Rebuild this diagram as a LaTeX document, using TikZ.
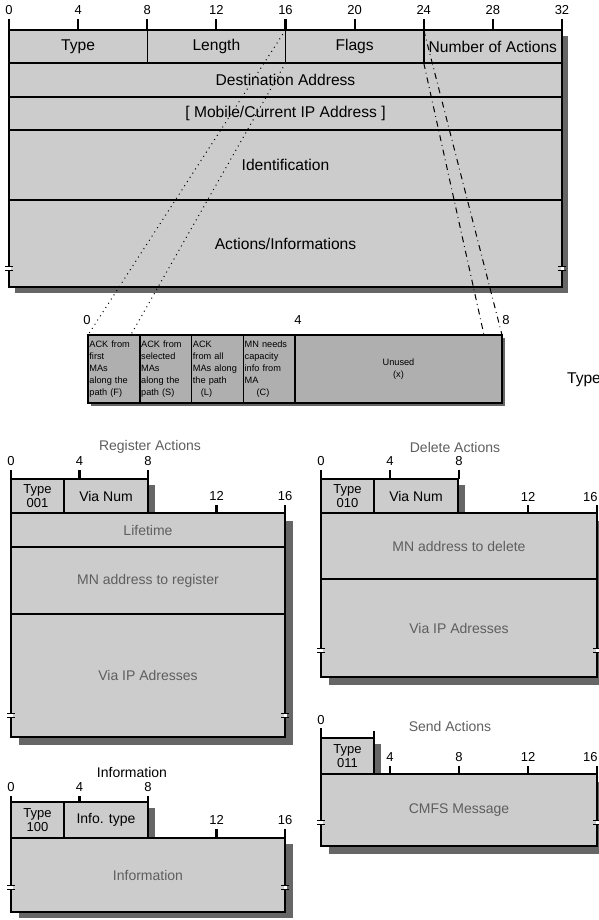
\documentclass[tikz,border=0pt]{standalone}
\usepackage{fontspec}
\setmainfont{Liberation Sans}
\usepackage{tikz}
\usetikzlibrary{positioning,backgrounds}
\definecolor{pktgray}{HTML}{CCCCCC}
\definecolor{flaggray}{HTML}{AFAFAF}
\definecolor{pktshadow}{HTML}{666666}
\definecolor{pkttext}{HTML}{5E5E5E}
\tikzset{
  pktfield/.style={
    draw=black, fill=pktgray, line width=0.75pt,
    inner sep=0pt, outer sep=0pt, align=center,
    font=\fontsize{7.8}{9}\selectfont
  },
  topfield/.style={pktfield, minimum width=69.125pt, minimum height=16.5pt},
  toprow/.style={pktfield, minimum width=276.5pt, minimum height=#1},
  flagcell/.style={
    draw=black, fill=flaggray, line width=0.75pt,
    outer sep=0pt, inner xsep=0.7pt, inner ysep=0pt,
    text width=24.475pt, minimum height=34pt, align=left,
    font=\fontsize{4.6}{6}\selectfont
  },
  subrow/.style={pktfield, text=pkttext, font=\fontsize{7}{8}\selectfont,
    minimum width=#1},
  subrow/.default=137pt,
  typecell/.style={pktfield, minimum width=26.5pt, minimum height=#1,
    font=\fontsize{6.5}{7}\selectfont},
  numcell/.style={pktfield, minimum width=42pt, minimum height=#1,
    font=\fontsize{7}{8}\selectfont},
  subtitle/.style={text=pkttext, font=\fontsize{7}{8}\selectfont},
  bitnum/.style={font=\fontsize{6.5}{7}\selectfont, inner sep=0pt},
  tick/.style={line width=1.1pt},
  flagmap/.style={dotted, line width=0.5pt},
  flagmapb/.style={dash dot, line width=0.5pt},
  brk/.pic={
    \fill[white] (-1.5,-2) rectangle (1.5,2);
    \draw[line width=0.4pt] (-4,-2) -- (4,-2) (-4,2) -- (4,2);
  }
}
\begin{document}
\begin{tikzpicture}[x=0.5pt, y=-0.5pt]
  \useasboundingbox (0,0) rectangle (599,920);

  %% ---- main packet ----
  \foreach \b in {0,4,...,32} {
    \draw[tick] ({9+\b*17.281},19) -- ++(0,11);
    \node[bitnum] (m\b) at ({9+\b*17.281},10) {\b};
  }
  \node[topfield, anchor=north west] (type) at (9,30) {Type};
  \node[topfield, right=0pt of type] (len) {Length};
  \node[topfield, right=0pt of len] (flags) {Flags};
  \node[topfield, right=0pt of flags] (nact) {Number of Actions};
  \node[toprow=17pt, anchor=north west] (dest) at (type.south west) {Destination Address};
  \node[toprow=16.5pt, below=0pt of dest] (mobile) {[ Mobile/Current IP Address ]};
  \node[toprow=35pt, below=0pt of mobile] (ident) {Identification};
  \node[toprow=43.5pt, below=0pt of ident] (acts) {Actions/Informations};
  \pic at ([yshift=9.5pt]acts.south west) {brk};
  \pic at ([yshift=9.5pt]acts.south east) {brk};

  %% ---- flags ----
  \node[bitnum] (f0) at (87,320) {0};
  \node[bitnum] (f4) at (298,320) {4};
  \node[bitnum] (f8) at (506,320) {8};
  \node[flagcell, anchor=north west] (flagF) at (88,335)
    {ACK from\\first\\MAs\\along the\\path (F)};
  \node[flagcell, right=0pt of flagF] (flagS)
    {ACK from\\selected\\MAs\\along the\\path (S)};
  \node[flagcell, right=0pt of flagS] (flagL)
    {ACK\\from all\\MAs along\\the path\\\hspace{4pt}(L)};
  \node[flagcell, right=0pt of flagL] (flagC)
    {MN needs\\capacity\\info from\\MA\\\hspace{6pt}(C)};
  \node[flagcell, right=0pt of flagC, text width=102.1pt, align=center] (flagU)
    {Unused\\(x)};
  \node[font=\fontsize{7.8}{9}\selectfont] (typelbl) at (584,380) {Type};

  \draw[flagmap] (flags.north west) -- (flagF.north west);
  \draw[flagmap] (flags.south west) -- ([xshift=-4.5pt]flagF.north east);
  \draw[flagmapb] (nact.north west) -- (flagU.north east);
  \draw[flagmapb] (nact.south west) -- ([xshift=-9pt]flagU.north east);

  %% ---- Register Actions ----
  \node[subtitle] (regt) at (150,447) {Register Actions};
  \foreach \b in {0,4,8} {
    \draw[tick] ({11+\b*17.125},470) -- ++(0,9);
    \node[bitnum] (r\b) at ({11+\b*17.125},461) {\b};
  }
  \foreach \b in {12,16} {
    \draw[tick] ({11+\b*17.125},505) -- ++(0,8);
    \node[bitnum] (r\b) at ({11+\b*17.125},496) {\b};
  }
  \node[typecell=17pt, anchor=north west] (regtype) at (11,479) {Type\\001};
  \node[numcell=17pt, right=0pt of regtype] (regvia) {Via Num};
  \node[subrow, minimum height=17pt, anchor=north west] (reglife) at (regtype.south west) {Lifetime};
  \node[subrow, minimum height=33.5pt, below=0pt of reglife] (regmn) {MN address to register};
  \node[subrow, minimum height=61.5pt, below=0pt of regmn] (regvip) {Via IP Adresses};
  \pic at ([yshift=11pt]regvip.south west) {brk};
  \pic at ([yshift=11pt]regvip.south east) {brk};

  %% ---- Delete Actions ----
  \node[subtitle] (delt) at (455,447) {Delete Actions};
  \foreach \b in {0,4,8} {
    \draw[tick] ({321+\b*17.25},470) -- ++(0,9);
    \node[bitnum] (d\b) at ({321+\b*17.25},461) {\b};
  }
  \foreach \b in {12,16} {
    \draw[tick] ({321+\b*17.25},505) -- ++(0,8);
  }
  \node[bitnum] (d12) at (528,497) {12};
  \node[bitnum, anchor=east] (d16) at (598,497) {16};
  \node[typecell=17pt, anchor=north west] (deltype) at (321,479) {Type\\010};
  \node[numcell=17pt, right=0pt of deltype] (delvia) {Via Num};
  \node[subrow=138pt, minimum height=33pt, anchor=north west] (delmn) at (deltype.south west) {MN address to delete};
  \node[subrow=138pt, minimum height=49pt, below=0pt of delmn] (delvip) {Via IP Adresses};
  \pic at ([yshift=13.5pt]delvip.south west) {brk};
  \pic at ([yshift=13.5pt]delvip.south east) {brk};

  %% ---- Send Actions ----
  \node[bitnum] (s0) at (321,720) {0};
  \node[subtitle] (sndt) at (450,726) {Send Actions};
  \draw[tick] (321,728) -- (321,738);
  \draw[line width=0.75pt] (374,731) -- (374,738);
  \foreach \b in {4,8,12,16} {
    \draw[tick] ({321+\b*17.25},766) -- ++(0,8);
  }
  \node[bitnum] (s4) at (390,757) {4};
  \node[bitnum] (s8) at (459,757) {8};
  \node[bitnum] (s12) at (528,757) {12};
  \node[bitnum, anchor=east] (s16) at (598,757) {16};
  \node[typecell=18pt, anchor=north west] (sndtype) at (321,738) {Type\\011};
  \node[subrow=138pt, minimum height=36pt, anchor=north west] (sndmsg) at (sndtype.south west) {CMFS Message};
  \pic at ([yshift=12pt]sndmsg.south west) {brk};
  \pic at ([yshift=12pt]sndmsg.south east) {brk};

  %% ---- Information ----
  \node[font=\fontsize{7}{8}\selectfont] (inft) at (132,772) {Information};
  \foreach \b in {0,4,8} {
    \draw[tick] ({11+\b*17.125},796) -- ++(0,6);
    \node[bitnum] (i\b) at ({11+\b*17.125},787) {\b};
  }
  \foreach \b in {12,16} {
    \draw[tick] ({11+\b*17.125},829) -- ++(0,9);
    \node[bitnum] (i\b) at ({11+\b*17.125},820) {\b};
  }
  \node[typecell=18pt, anchor=north west] (inftype) at (11,802) {Type\\100};
  \node[numcell=18pt, right=0pt of inftype] (infkind) {Info. type};
  \node[subrow, minimum height=37pt, anchor=north west] (infmain) at (inftype.south west) {Information};
  \pic at ([yshift=12.5pt]infmain.south west) {brk};
  \pic at ([yshift=12.5pt]infmain.south east) {brk};

  %% shadows
  \begin{scope}[on background layer]
    \fill[pktshadow] ([shift={(3pt,-3pt)}]type.north west) rectangle ([shift={(3pt,-3pt)}]acts.south east);
    \fill[pktshadow] ([shift={(1.5pt,-1.5pt)}]flagF.north west) rectangle ([shift={(1.5pt,-1.5pt)}]flagU.south east);
    \fill[pktshadow] ([shift={(3.5pt,-3pt)}]regtype.north west) rectangle ([shift={(3.5pt,-3pt)}]regvia.south east);
    \fill[pktshadow] ([shift={(4pt,-4pt)}]reglife.north west) rectangle ([shift={(4pt,-4pt)}]regvip.south east);
    \fill[pktshadow] ([shift={(3.5pt,-3pt)}]deltype.north west) rectangle ([shift={(3.5pt,-3pt)}]delvia.south east);
    \fill[pktshadow] ([shift={(4pt,-4pt)}]delmn.north west) rectangle ([shift={(4pt,-4pt)}]delvip.south east);
    \fill[pktshadow] ([shift={(3.5pt,-3pt)}]sndtype.north west) rectangle ([shift={(3.5pt,-3pt)}]sndtype.south east);
    \fill[pktshadow] ([shift={(4pt,-4pt)}]sndmsg.north west) rectangle ([shift={(4pt,-4pt)}]sndmsg.south east);
    \fill[pktshadow] ([shift={(3.5pt,-3pt)}]inftype.north west) rectangle ([shift={(3.5pt,-3pt)}]infkind.south east);
    \fill[pktshadow] ([shift={(4pt,-3pt)}]infmain.north west) rectangle ([shift={(4pt,-3pt)}]infmain.south east);
  \end{scope}

\end{tikzpicture}
\end{document}
